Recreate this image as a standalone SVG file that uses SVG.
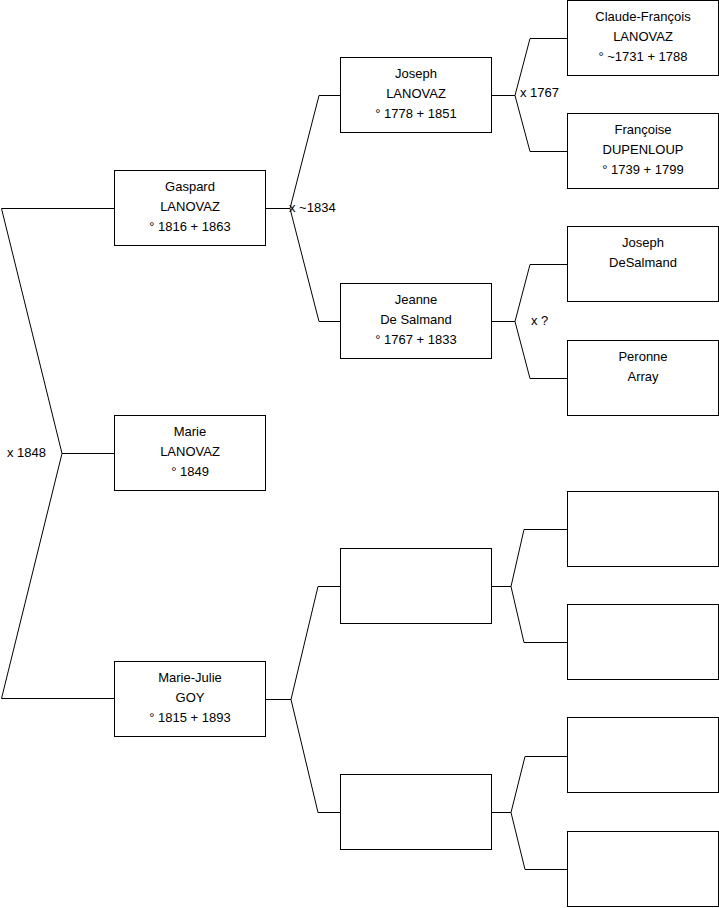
<svg xmlns="http://www.w3.org/2000/svg" width="719" height="908" viewBox="0 0 719 908">
<style>
rect.box{fill:#fff;stroke:#000;stroke-width:1}
#connectors path{fill:none;stroke:#000;stroke-width:1}
text{font-family:"Liberation Sans",Arial,sans-serif;font-size:13px;fill:#000}
text.c{text-anchor:middle}
</style>
<rect width="719" height="908" fill="#fff"/>
<g id="connectors">
<path d="M114,208.5 H1.5 L62,453.5 L1.5,698.5 H114"/>
<path d="M62,453.5 H114"/>
<path d="M265,208.5 H290 M341,95.5 H319 L290,208.5 L319,321.5 H341"/>
<path d="M492,95.5 H515 M567,38.5 H530 L515,95.5 L530,151.5 H567"/>
<path d="M492,321.5 H515 M567,264.5 H530 L515,321.5 L530,378.5 H567"/>
<path d="M265,699.5 H291 M341,586.5 H318 L291,699.5 L318,812.5 H341"/>
<path d="M492,586.5 H511 M567,529.5 H524 L511,586.5 L524,642.5 H567"/>
<path d="M492,812.5 H511 M567,756.5 H525 L511,812.5 L525,869.5 H567"/>
<text x="7" y="457">x 1848</text>
<text x="289" y="212">x ~1834</text>
<text x="520" y="97">x 1767</text>
<text x="531" y="325">x ?</text>
</g>
<g id="gaspard"><rect class="box" x="114.5" y="170.5" width="151" height="75"/>
<text class="c" x="190" y="191">Gaspard</text><text class="c" x="190" y="211">LANOVAZ</text><text class="c" x="190" y="230.5">° 1816 + 1863</text></g>
<g id="marie"><rect class="box" x="114.5" y="415.5" width="151" height="75"/>
<text class="c" x="190" y="436">Marie</text><text class="c" x="190" y="456">LANOVAZ</text><text class="c" x="190" y="475.5">° 1849</text></g>
<g id="marie-julie"><rect class="box" x="114.5" y="661.5" width="151" height="75"/>
<text class="c" x="190" y="682">Marie-Julie</text><text class="c" x="190" y="702">GOY</text><text class="c" x="190" y="721.5">° 1815 + 1893</text></g>
<g id="joseph"><rect class="box" x="340.5" y="57.5" width="151" height="75"/>
<text class="c" x="416" y="78">Joseph</text><text class="c" x="416" y="98">LANOVAZ</text><text class="c" x="416" y="117.5">° 1778 + 1851</text></g>
<g id="jeanne"><rect class="box" x="340.5" y="283.5" width="151" height="75"/>
<text class="c" x="416" y="304">Jeanne</text><text class="c" x="416" y="324">De Salmand</text><text class="c" x="416" y="343.5">° 1767 + 1833</text></g>
<g id="p-empty-1"><rect class="box" x="340.5" y="548.5" width="151" height="75"/></g>
<g id="p-empty-2"><rect class="box" x="340.5" y="774.5" width="151" height="75"/></g>
<g id="claude"><rect class="box" x="567.5" y="0.5" width="151" height="75"/>
<text class="c" x="643" y="21">Claude-François</text><text class="c" x="643" y="41">LANOVAZ</text><text class="c" x="643" y="60.5">° ~1731 + 1788</text></g>
<g id="francoise"><rect class="box" x="567.5" y="113.5" width="151" height="75"/>
<text class="c" x="643" y="134">Françoise</text><text class="c" x="643" y="154">DUPENLOUP</text><text class="c" x="643" y="173.5">° 1739 + 1799</text></g>
<g id="joseph-desalmand"><rect class="box" x="567.5" y="226.5" width="151" height="75"/>
<text class="c" x="643" y="247">Joseph</text><text class="c" x="643" y="267">DeSalmand</text></g>
<g id="peronne"><rect class="box" x="567.5" y="340.5" width="151" height="75"/>
<text class="c" x="643" y="361">Peronne</text><text class="c" x="643" y="381">Array</text></g>
<g id="g-empty-1"><rect class="box" x="567.5" y="491.5" width="151" height="75"/></g>
<g id="g-empty-2"><rect class="box" x="567.5" y="604.5" width="151" height="75"/></g>
<g id="g-empty-3"><rect class="box" x="567.5" y="717.5" width="151" height="75"/></g>
<g id="g-empty-4"><rect class="box" x="567.5" y="831.5" width="151" height="75"/></g>
</svg>
